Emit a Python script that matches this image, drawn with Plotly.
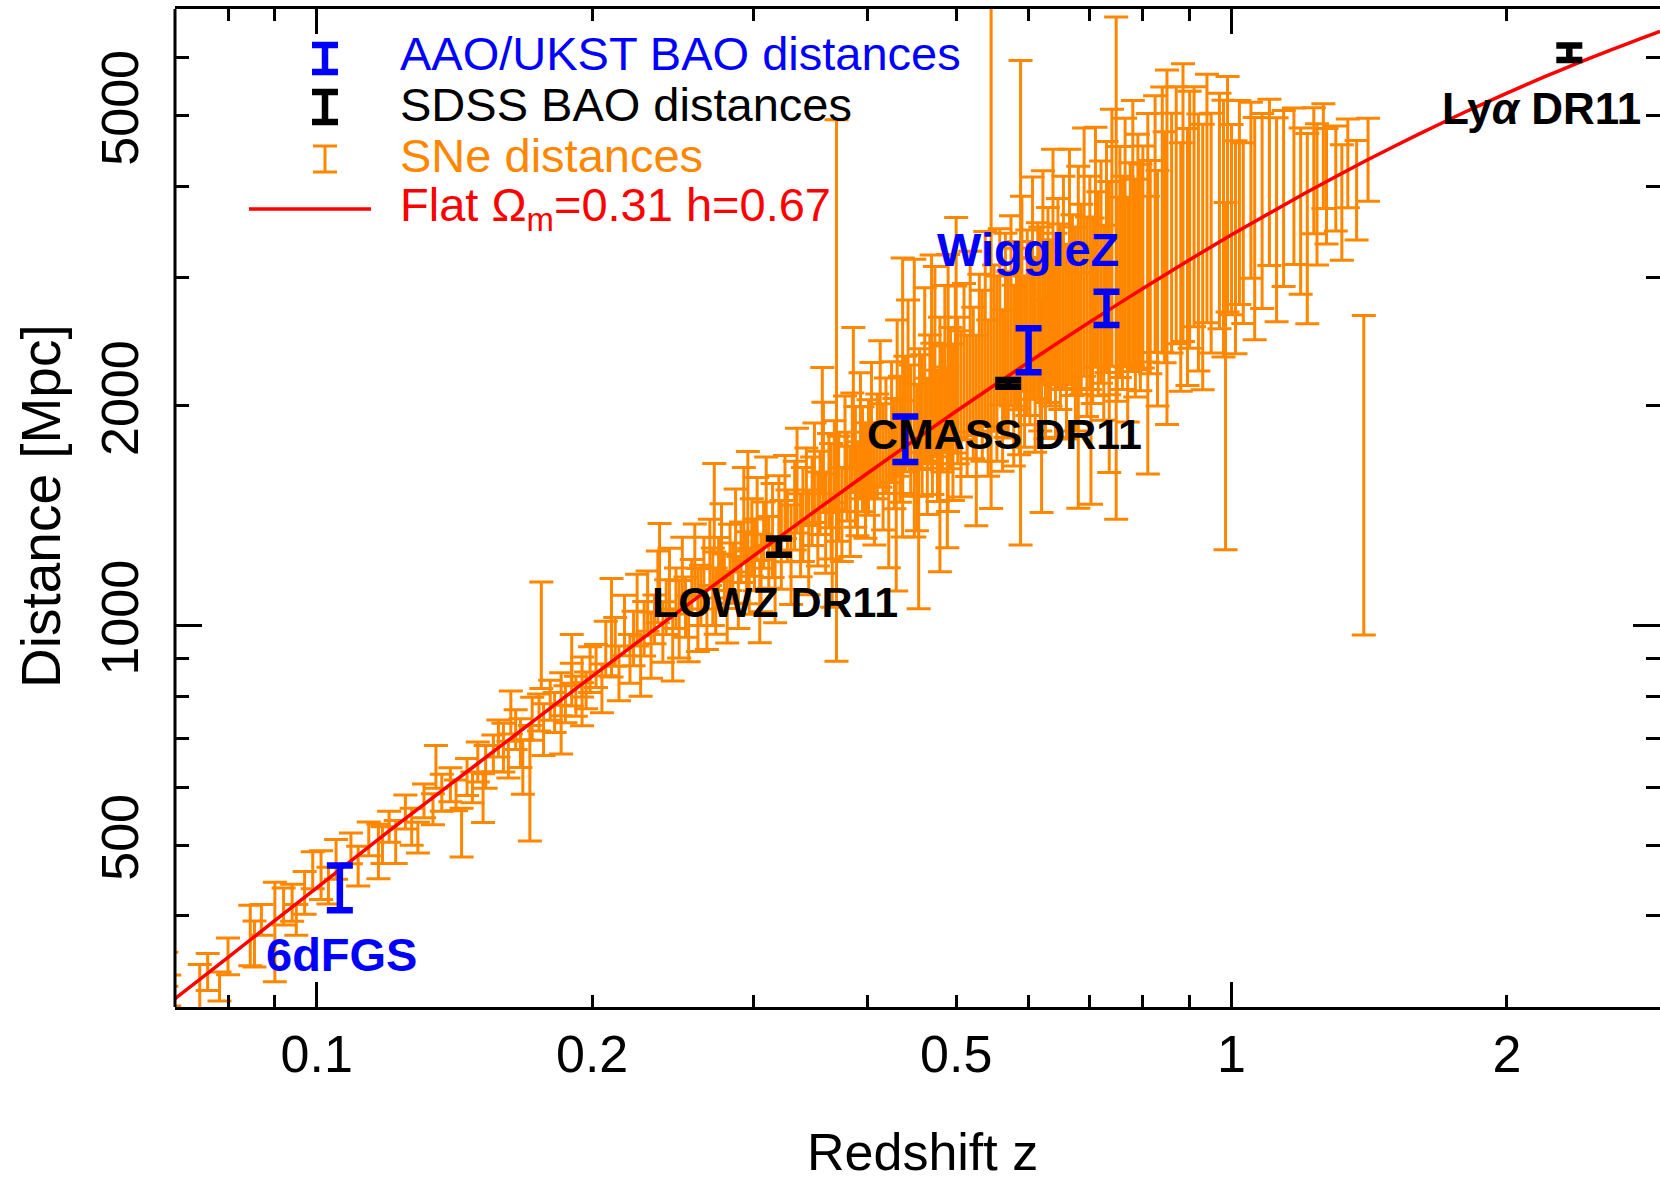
import math
import plotly.graph_objects as go

# ---------------- data ----------------
# SNe distances: redshift, distance [Mpc], fractional (upper) error bar length
sn_z = [
    0.0685, 0.069, 0.0745, 0.076, 0.0783, 0.080, 0.0846, 0.0855, 0.087, 0.090,
    0.092, 0.094, 0.095, 0.097, 0.099, 0.1011, 0.103, 0.105, 0.109, 0.111,
    0.114, 0.1168, 0.118, 0.12, 0.122, 0.125, 0.127, 0.129, 0.131, 0.134,
    0.135, 0.137, 0.14, 0.142, 0.144, 0.146, 0.148, 0.15, 0.152, 0.153,
    0.156, 0.158, 0.16, 0.162, 0.163, 0.165, 0.167, 0.168, 0.171, 0.172,
    0.175, 0.176, 0.177, 0.18, 0.182, 0.185, 0.185, 0.187, 0.19, 0.19,
    0.192, 0.195, 0.195, 0.197, 0.199,
    0.202, 0.205, 0.207, 0.21, 0.212, 0.214, 0.217, 0.22, 0.222, 0.224,
    0.226, 0.228, 0.23, 0.232, 0.234, 0.236, 0.237, 0.239, 0.241, 0.243,
    0.245, 0.247, 0.249, 0.251, 0.253, 0.255, 0.257, 0.259, 0.261, 0.263,
    0.265, 0.267, 0.269, 0.271, 0.273, 0.275, 0.277, 0.279, 0.281, 0.283,
    0.285, 0.287, 0.289, 0.291, 0.293, 0.295, 0.297, 0.299,
    0.301, 0.303, 0.306, 0.308, 0.31, 0.312, 0.315, 0.317, 0.32, 0.322,
    0.325, 0.327, 0.33, 0.333, 0.335, 0.338, 0.34, 0.343, 0.345, 0.348,
    0.35, 0.353, 0.355, 0.358, 0.36, 0.363, 0.365, 0.368, 0.37, 0.372,
    0.375, 0.378, 0.38, 0.383, 0.385, 0.388, 0.39, 0.393, 0.395, 0.398,
    0.401, 0.404, 0.407, 0.41, 0.413, 0.416, 0.419, 0.422, 0.425, 0.428,
    0.431, 0.434, 0.437, 0.44, 0.443, 0.446, 0.45, 0.453, 0.456, 0.459,
    0.462, 0.465, 0.468, 0.471, 0.474, 0.477, 0.48, 0.483, 0.486, 0.489,
    0.49, 0.493, 0.496, 0.499,
    0.272, 0.296, 0.305, 0.357, 0.366, 0.386, 0.43, 0.437, 0.47, 0.48, 0.5, 0.455,
    0.502, 0.506, 0.51, 0.514, 0.518, 0.522, 0.526, 0.53, 0.534, 0.538,
    0.542, 0.546, 0.55, 0.554, 0.558, 0.562, 0.566, 0.57, 0.574, 0.578,
    0.582, 0.586, 0.588, 0.59, 0.594, 0.598, 0.602, 0.606, 0.61, 0.614,
    0.618, 0.622, 0.626, 0.63, 0.634, 0.638, 0.642, 0.646,
    0.65, 0.655, 0.66, 0.665, 0.67, 0.675, 0.68, 0.685, 0.69, 0.695,
    0.7, 0.705, 0.71, 0.715, 0.72, 0.725, 0.73, 0.735, 0.74, 0.748,
    0.75, 0.755, 0.76, 0.765, 0.77, 0.775, 0.78, 0.785, 0.79, 0.795,
    0.62, 0.68, 0.702, 0.735, 0.81,
    0.8, 0.81, 0.815, 0.825, 0.83, 0.84, 0.845,
    0.85, 0.86, 0.87, 0.88, 0.885, 0.895,
    0.9, 0.91, 0.92, 0.93, 0.94, 0.95, 0.97,
    0.98, 0.985, 0.99,
    1.0, 1.01, 1.02, 1.03, 1.05, 1.06, 1.08, 1.1, 1.12, 1.14,
    1.17, 1.19, 1.21, 1.23, 1.24, 1.26, 1.27, 1.3, 1.32, 1.34,
    1.37, 1.395, 1.41]
sn_dist = [
    338, 316, 312, 335, 320, 352, 376, 366, 395, 380,
    412, 417, 395, 430, 462, 455, 440, 478, 495, 468,
    510, 490, 500, 530, 505, 555, 530, 512, 575, 560,
    640, 590, 605, 585, 520, 620, 600, 650, 580, 640,
    668, 700, 680, 655, 760, 720, 690, 640, 608, 745,
    760, 970, 720, 790, 760, 805, 720, 780, 830, 900,
    800, 850, 780, 815, 870,
    880, 820, 930, 993, 950, 860, 1000, 900, 960, 1050,
    880, 990, 1080, 940, 1020, 1130, 1198, 980, 1060, 1150,
    940, 1090, 1020, 1180, 1060, 990, 1130, 1230, 1050, 1100,
    1180, 1020, 1260, 1130, 1080, 1200, 1300, 1150, 1060, 1240,
    1180, 1350, 1110, 1260, 1420, 1200, 1150, 1320,
    1250, 1400, 1180, 1330, 1480, 1260, 1350, 1150, 1420, 1290,
    1500, 1370, 1250, 1460, 1580, 1330, 1420, 1550, 1300, 1480,
    1620, 1400, 1520, 1700, 1380, 1580, 1480, 1660, 2100, 1540,
    1420, 1720, 1600, 1480, 1780, 1650, 1540, 1820, 1690, 1580,
    1700, 1850, 1560, 1760, 1950, 1650, 1820, 1500, 1900, 1720,
    2050, 1800, 1640, 1950, 2150, 1850, 2050, 1700, 1980, 1880,
    2200, 1760, 2050, 1920, 2300, 1820, 2100, 1980, 2250, 1700,
    2150, 2050, 1900, 2300,
    1450, 1480, 1080, 1850, 1250, 2050, 1450, 2200, 2300, 1600, 2500, 1350,
    2100, 1950, 2300, 2000, 2450, 2150, 1850, 2350, 2200, 2550,
    2050, 3400, 2400, 2250, 2650, 2100, 2500, 2350, 2700, 2200,
    2550, 2400, 2770, 2850, 2300, 2600, 2450, 2900, 2350, 2700,
    2550, 3000, 2400, 2750, 2600, 3100, 2500, 2850,
    2650, 2950, 2450, 3100, 2750, 2550, 3000, 2800, 3250, 2650,
    2950, 2700, 3300, 2850, 3050, 2600, 3200, 2900, 3400, 3090,
    2800, 3150, 2950, 3350, 2700, 3100, 3450, 2900, 3250, 3000,
    2000, 2100, 2200, 2350, 2500,
    3200, 3400, 3100, 3550, 2900, 3600, 3300,
    3300, 3450, 3650, 3100, 3800, 3200,
    3600, 3750, 3350, 3200, 3850, 3450, 3700,
    3500, 2197, 3900,
    3600, 3300, 3800, 3450, 3950, 3500, 3700, 4050, 3600, 3850,
    4000, 3700, 3500, 4200, 3900, 4400, 4000, 4100, 3800, 4300,
    3950, 1607, 4350]
sn_frac_err = [
    0.055, 0.05, 0.10, 0.06, 0.047, 0.06, 0.10, 0.075, 0.05, 0.17,
    0.06, 0.06, 0.05, 0.07, 0.06, 0.08, 0.06, 0.065, 0.05, 0.065,
    0.055, 0.09, 0.06, 0.05, 0.07, 0.055, 0.06, 0.05, 0.055, 0.05,
    0.07, 0.06, 0.055, 0.05, 0.08, 0.06, 0.05, 0.065, 0.08, 0.07,
    0.06, 0.06, 0.08, 0.06, 0.07, 0.065, 0.08, 0.09, 0.20, 0.07,
    0.06, 0.183, 0.085, 0.065, 0.065, 0.07, 0.08, 0.06, 0.07, 0.08,
    0.065, 0.065, 0.07, 0.06, 0.075,
    0.07, 0.08, 0.09, 0.168, 0.08, 0.09, 0.10, 0.08, 0.09, 0.12,
    0.10, 0.09, 0.10, 0.11, 0.08, 0.12, 0.152, 0.10, 0.09, 0.11,
    0.12, 0.10, 0.13, 0.12, 0.10, 0.11, 0.09, 0.12, 0.14, 0.10,
    0.12, 0.10, 0.11, 0.13, 0.11, 0.10, 0.13, 0.09, 0.12, 0.11,
    0.10, 0.14, 0.12, 0.10, 0.16, 0.12, 0.11, 0.13,
    0.12, 0.14, 0.13, 0.11, 0.15, 0.12, 0.16, 0.14, 0.13, 0.15,
    0.14, 0.12, 0.17, 0.15, 0.18, 0.14, 0.16, 0.13, 0.18, 0.15,
    0.17, 0.16, 0.14, 0.19, 0.17, 0.16, 0.20, 0.15, 1.35, 0.18,
    0.16, 0.20, 0.15, 0.19, 0.17, 0.21, 0.16, 0.22, 0.18, 0.20,
    0.20, 0.24, 0.21, 0.18, 0.26, 0.22, 0.20, 0.25, 0.21, 0.19,
    0.28, 0.22, 0.24, 0.20, 0.30, 0.23, 0.55, 0.26, 0.21, 0.25,
    0.32, 0.24, 0.22, 0.27, 0.35, 0.23, 0.26, 0.22, 0.30, 0.33,
    0.50, 0.25, 0.28, 0.27,
    0.15, 0.17, 0.14, 0.22, 0.18, 0.25, 0.30, 0.45, 0.40, 0.35, 0.45, 0.28,
    0.26, 0.30, 0.28, 0.25, 0.33, 0.27, 0.35, 0.29, 0.31, 0.36,
    0.28, 1.35, 0.30, 0.34, 0.32, 0.29, 0.38, 0.30, 0.35, 0.33,
    0.29, 0.40, 1.148, 0.36, 0.31, 0.34, 0.30, 0.42, 0.36, 0.32,
    0.38, 0.40, 0.33, 0.36, 0.30, 0.45, 0.38, 0.35,
    0.34, 0.40, 0.36, 0.45, 0.33, 0.38, 0.42, 0.35, 0.48, 0.37,
    0.40, 0.34, 0.46, 0.38, 0.42, 0.36, 0.44, 0.40, 0.50, 1.209,
    0.38, 0.44, 0.40, 0.48, 0.42, 0.39, 0.52, 0.41, 0.45, 0.43,
    0.40, 0.45, 0.50, 0.45, 0.55,
    0.42, 0.48, 0.40, 0.50, 0.45, 0.52, 0.44,
    0.75, 0.46, 0.50, 0.48, 0.55, 0.50,
    0.50, 0.46, 0.50, 0.52, 0.48, 0.46, 0.45,
    0.50, 0.73, 0.45,
    0.35, 0.40, 0.38, 0.33, 0.32, 0.42, 0.36, 0.30, 0.38, 0.32,
    0.28, 0.30, 0.35, 0.22, 0.25, 0.18, 0.20, 0.18, 0.20, 0.15,
    0.17, 0.656, 0.14]

# BAO distances
aao_labels = ["6dFGS", "WiggleZ", "WiggleZ", "WiggleZ"]
aao_z = [0.106, 0.44, 0.60, 0.73]
aao_dist = [438, 1805, 2390, 2725]
aao_err = [31, 130, 165, 143]

sdss_labels = ["LOWZ DR11", "CMASS DR11", "Lyα DR11"]
sdss_z = [0.32, 0.57, 2.34]
sdss_dist = [1283, 2148, 6100]
sdss_err = [33, 23, 140]

# model curve: flat Omega_m=0.31, h=0.67
model_z = [0.07, 0.08, 0.1, 0.12, 0.15, 0.2, 0.25, 0.3, 0.4, 0.5, 0.6, 0.7, 0.8, 0.9, 1.0,
           1.2, 1.4, 1.6, 1.8, 2.0, 2.2, 2.4, 2.6, 2.8, 2.94]
model_dist = [308, 351, 437, 523, 647, 852, 1051, 1245, 1617, 1967, 2296, 2606, 2898, 3173, 3432,
              3907, 4332, 4713, 5057, 5369, 5654, 5914, 6154, 6375, 6520]

# axes
x_range = [0.07, 2.94]
y_range = [300, 7000]
x_ticks = [0.1, 0.2, 0.5, 1, 2]
x_ticktext = ["0.1", "0.2", "0.5", "1", "2"]
x_minor = [0.08, 0.09, 0.3, 0.4, 0.6, 0.7, 0.8, 0.9]
x_long = [0.1, 1]
y_ticks = [500, 1000, 2000, 5000]
y_ticktext = ["500", "1000", "2000", "5000"]
y_minor = [400, 600, 700, 800, 900, 3000, 4000, 6000]
y_long = [1000]

# error bars (symmetric in log distance)
sn_err_hi = [d * f for d, f in zip(sn_dist, sn_frac_err)]
sn_err_lo = [d * f / (1 + f) for d, f in zip(sn_dist, sn_frac_err)]

# ---------------- style ----------------
ORANGE = "rgb(255,135,0)"
BLUE = "#0000ff"
RED = "#ff0000"
NONE = "rgba(0,0,0,0)"
FONT = "Liberation Sans"
W, H = 1660, 1186
L, R, T, B = 175, 1660, 9, 1007


def px(x):
    return (x - L) / (R - L)


def py(y):
    return (B - y) / (B - T)


fig = go.Figure()

fig.add_trace(go.Scatter(
    x=sn_z, y=sn_dist, mode="markers", marker=dict(size=1, color=NONE),
    error_y=dict(type="data", symmetric=False, array=sn_err_hi, arrayminus=sn_err_lo,
                 color=ORANGE, thickness=3, width=12),
    name="SNe distances", showlegend=False, hoverinfo="skip"))

fig.add_trace(go.Scatter(
    x=model_z, y=model_dist, mode="lines",
    line=dict(color=RED, width=3.5, shape="spline", smoothing=0.6),
    name="Flat model", showlegend=False, hoverinfo="skip"))

fig.add_trace(go.Scatter(
    x=aao_z, y=aao_dist, mode="markers", marker=dict(size=1, color=NONE),
    error_y=dict(type="data", array=aao_err, color=BLUE, thickness=6.5, width=13),
    name="AAO/UKST BAO distances", showlegend=False, hoverinfo="skip"))

fig.add_trace(go.Scatter(
    x=sdss_z, y=sdss_dist, mode="markers", marker=dict(size=1, color=NONE),
    error_y=dict(type="data", array=sdss_err, color="black", thickness=6.5, width=13),
    name="SDSS BAO distances", showlegend=False, hoverinfo="skip"))

# helper trace for the long (decade) tick marks on overlaid axes
fig.add_trace(go.Scatter(x=[], y=[], xaxis="x2", yaxis="y2", showlegend=False, hoverinfo="skip"))

lx = [math.log10(v) for v in x_range]
ly = [math.log10(v) for v in y_range]
tickfont = dict(family=FONT, size=52, color="black")

fig.update_layout(
    width=W, height=H, margin=dict(l=L, r=W - R, t=T, b=H - B, autoexpand=False),
    paper_bgcolor="white", plot_bgcolor="white", showlegend=False,
    xaxis=dict(type="log", range=lx, tickmode="array", tickvals=x_ticks, ticktext=x_ticktext,
               ticks="inside", ticklen=12, tickwidth=3, tickcolor="black", automargin=False,
               showline=True, linewidth=3, linecolor="black", mirror="ticks",
               showgrid=False, zeroline=False, tickfont=tickfont, ticklabelstandoff=0,
               minor=dict(tickvals=x_minor, ticks="inside", ticklen=12, tickwidth=3,
                          tickcolor="black", showgrid=False)),
    yaxis=dict(type="log", range=ly, tickmode="array", tickvals=y_ticks, ticktext=y_ticktext,
               tickangle=-90, ticks="inside", ticklen=14, tickwidth=3, tickcolor="black", automargin=False,
               showline=False, mirror="ticks", showgrid=False, zeroline=False,
               tickfont=tickfont, ticklabelstandoff=26,
               minor=dict(tickvals=y_minor, ticks="inside", ticklen=14, tickwidth=3,
                          tickcolor="black", showgrid=False)),
    xaxis2=dict(type="log", range=lx, overlaying="x", anchor="y2", tickmode="array", tickvals=x_long,
                ticks="inside", ticklen=25, tickwidth=3, tickcolor="black", mirror="ticks", automargin=False,
                showline=False, showticklabels=False, showgrid=False, zeroline=False),
    yaxis2=dict(type="log", range=ly, overlaying="y", anchor="x2", tickmode="array", tickvals=y_long,
                ticks="inside", ticklen=27, tickwidth=3, tickcolor="black", mirror="ticks", automargin=False,
                showline=False, showticklabels=False, showgrid=False, zeroline=False),
)

# axis titles
fig.add_annotation(text="Redshift z", xref="paper", yref="paper", x=px(923), y=py(1152),
                   xanchor="center", yanchor="middle", showarrow=False,
                   font=dict(family=FONT, size=52, color="black"))
fig.add_annotation(text="Distance [Mpc]", xref="paper", yref="paper", x=px(41), y=py(506),
                   xanchor="center", yanchor="middle", textangle=-90, showarrow=False,
                   font=dict(family=FONT, size=55, color="black"))

# left frame line
fig.add_shape(type="line", xref="paper", yref="paper", x0=0, x1=0, y0=0, y1=1,
              line=dict(color="black", width=3))


# ---- hand-drawn legend (glyphs + text) ----
def ibar(xc, y0, y1, half, color, width):
    fig.add_shape(type="line", xref="paper", yref="paper", x0=px(xc), x1=px(xc), y0=py(y0), y1=py(y1),
                  line=dict(color=color, width=width))
    for yy in (y0, y1):
        fig.add_shape(type="line", xref="paper", yref="paper", x0=px(xc - half), x1=px(xc + half),
                      y0=py(yy), y1=py(yy), line=dict(color=color, width=width))


ibar(325, 45, 72, 13, BLUE, 6.5)
ibar(325, 92, 122, 13, "black", 6.5)
ibar(325, 146, 172, 12, ORANGE, 3)
fig.add_shape(type="line", xref="paper", yref="paper", x0=px(249), x1=px(371), y0=py(209), y1=py(209),
              line=dict(color=RED, width=3.5))

legend_rows = [("AAO/UKST BAO distances", BLUE, 54),
               ("SDSS BAO distances", "black", 105),
               ("SNe distances", ORANGE, 156),
               ("Flat Ω<sub>m</sub>=0.31 h=0.67", RED, 208)]
for text, col, yc in legend_rows:
    fig.add_annotation(text=text, xref="paper", yref="paper", x=px(398), y=py(yc),
                       xanchor="left", yanchor="middle", showarrow=False,
                       font=dict(family=FONT, size=47, color=col))

# ---- survey labels ----
label_pos = [("6dFGS", BLUE, 341, 954, 47),
             ("WiggleZ", BLUE, 1028, 250, 47),
             ("CMASS DR11", "black", 1004, 434, 43),
             ("LOWZ DR11", "black", 775, 602, 43),
             ("Ly<i>α</i> DR11", "black", 1541, 108, 44)]
for text, col, xc, yc, fs in label_pos:
    fig.add_annotation(text="<b>" + text + "</b>", xref="paper", yref="paper", x=px(xc), y=py(yc),
                       xanchor="center", yanchor="middle", showarrow=False,
                       font=dict(family=FONT, size=fs, color=col))

fig.write_html("out.html")
